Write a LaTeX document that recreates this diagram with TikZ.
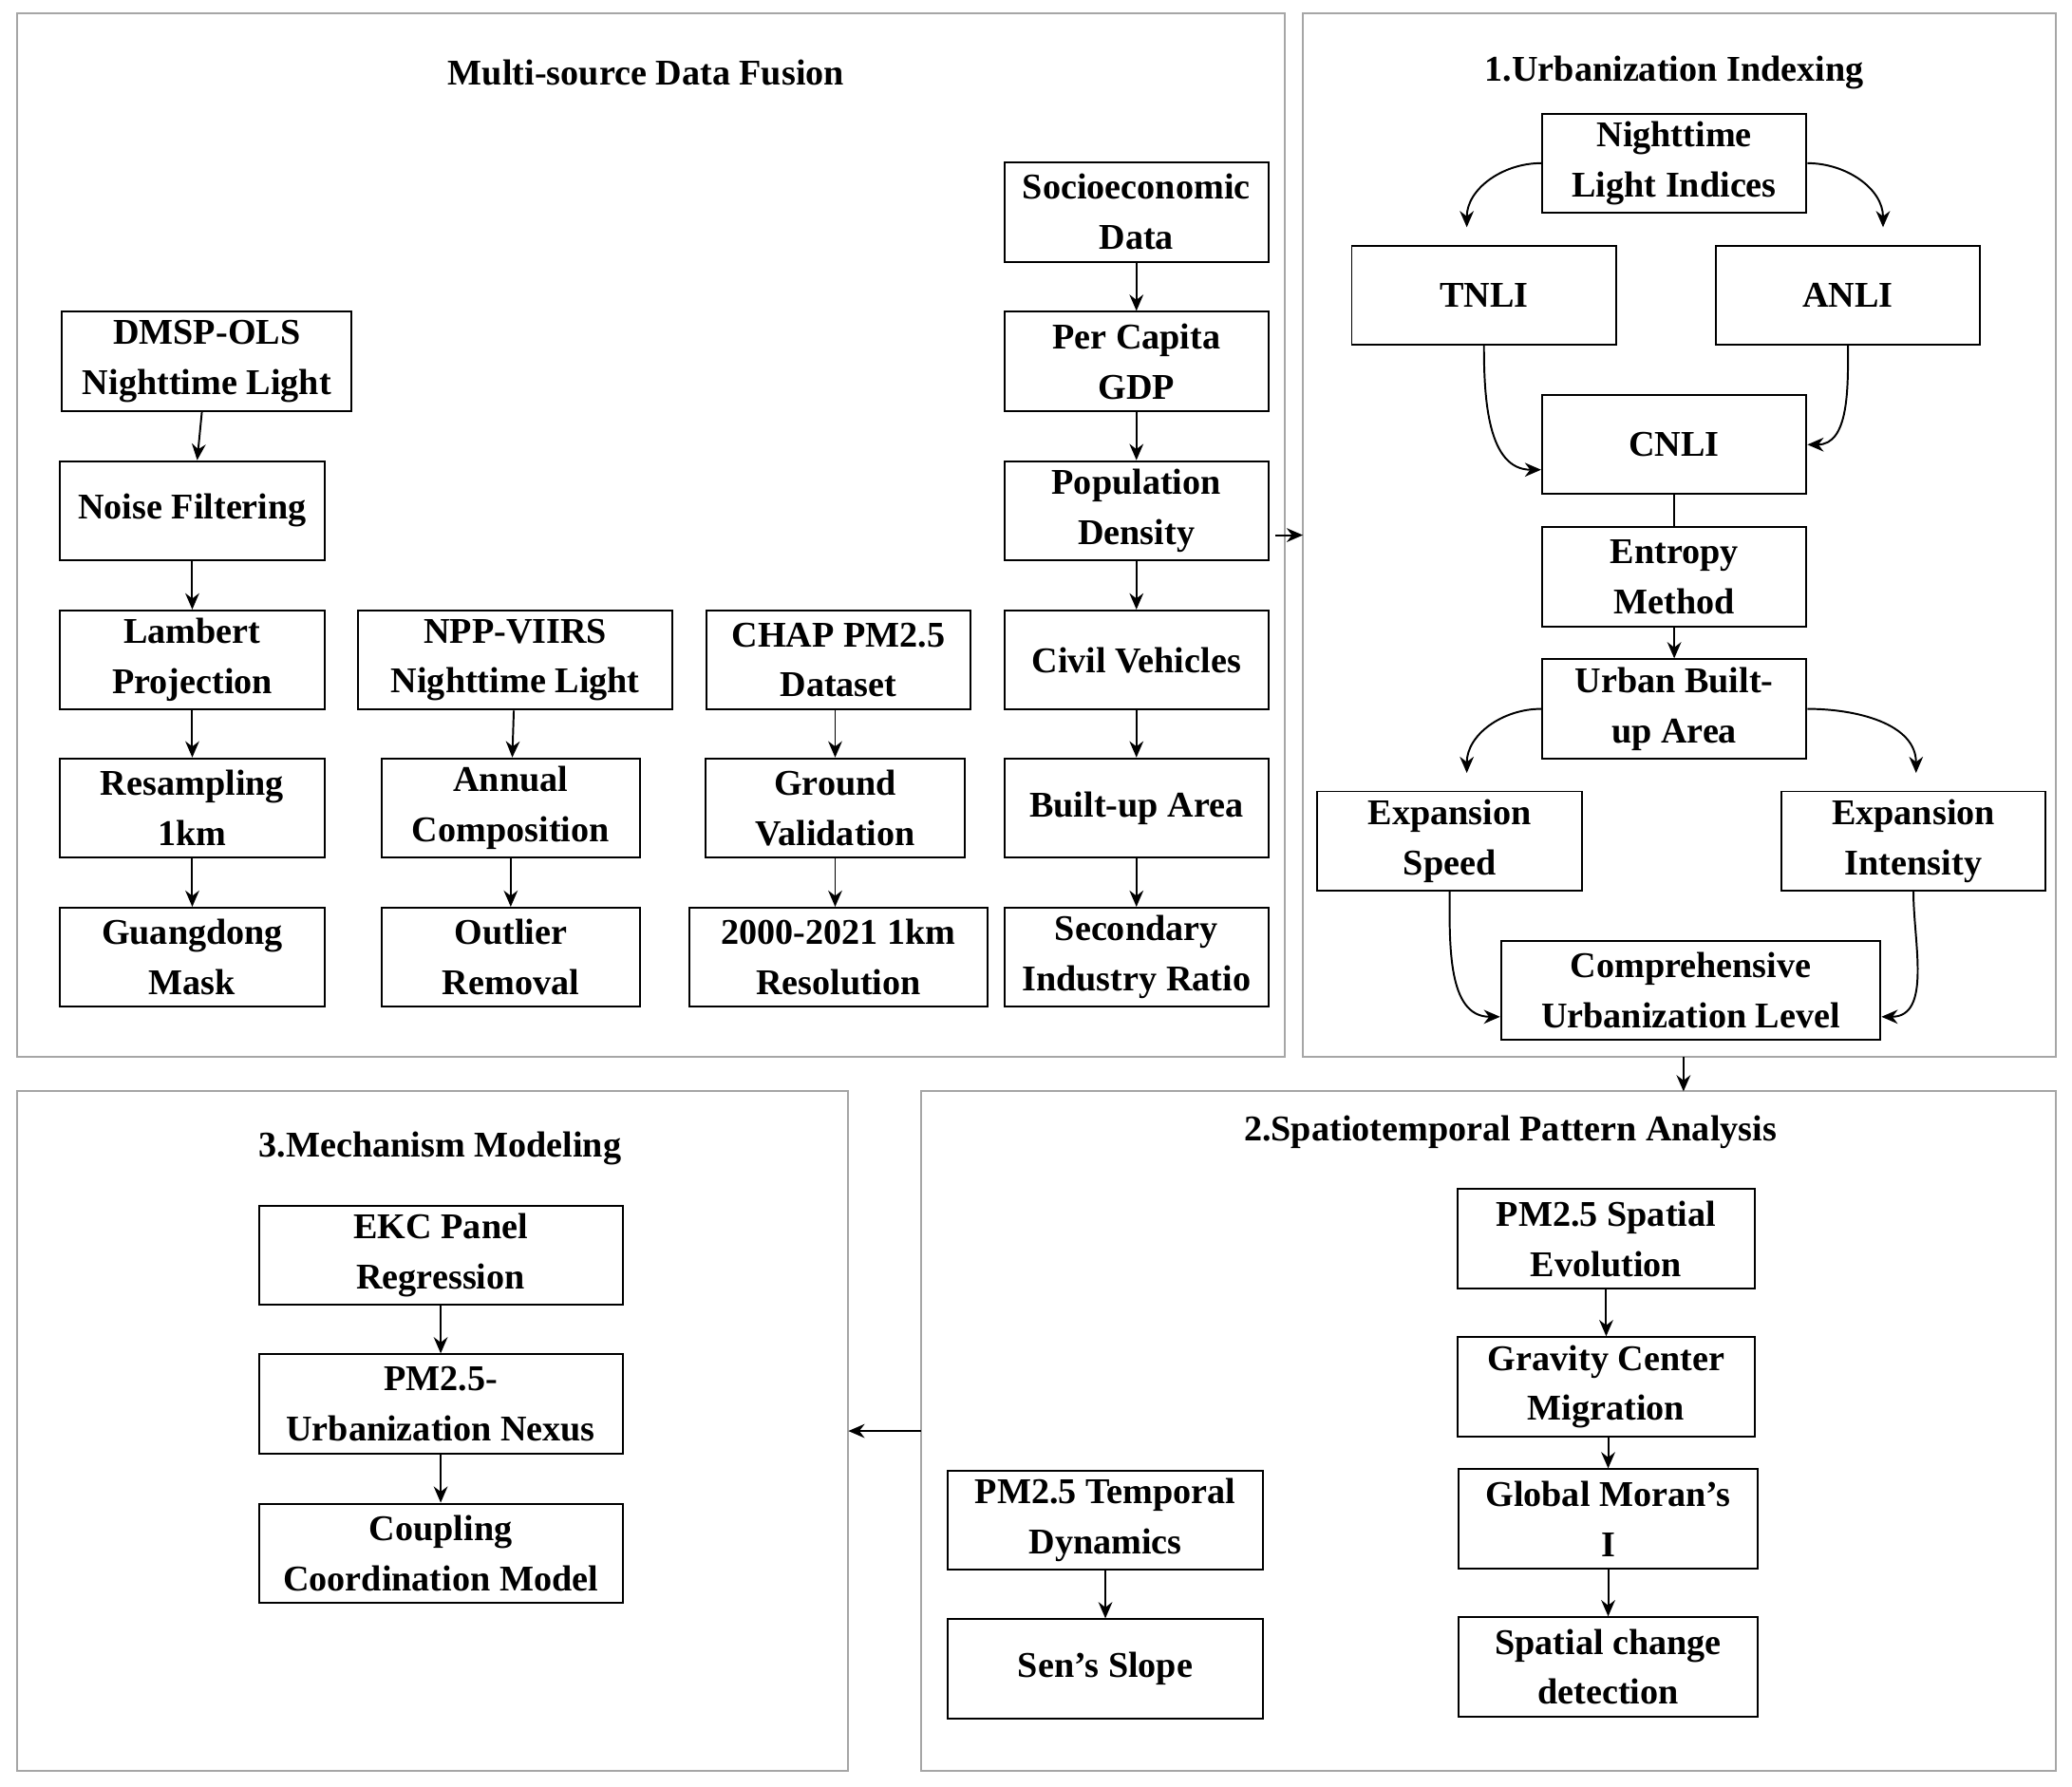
\documentclass[tikz,border=0pt]{standalone}
\usepackage{fontspec}
\setmainfont{Liberation Serif}
\usetikzlibrary{arrows.meta}
\begin{document}
\begin{tikzpicture}[x=0.01cm,y=-0.01cm,font=\bfseries\fontsize{7.8}{10.8}\selectfont,
  box/.style={draw,align=center,minimum width=2cm,minimum height=0.75cm,inner sep=1pt},
  panel/.style={draw,gray!70},
  arr/.style={-{Stealth[length=3.5pt,width=3pt]},line width=0.4pt}]
  \useasboundingbox (0,0) rectangle (1568,1352);
  % panels
  \draw[panel] (13,10) rectangle (972,800);
  \draw[panel] (986,10) rectangle (1556,800);
  \draw[panel] (13,826) rectangle (642,1340);
  \draw[panel] (697,826) rectangle (1556,1340);
  \node (t0) at (489,55) {Multi-source Data Fusion};
  \node (t1) at (1267,55) {1.Urbanization Indexing};
  \node (t3) at (333,869) {3.Mechanism Modeling};
  \node (t2) at (1143,857) {2.Spatiotemporal Pattern Analysis};
  % data fusion
  \node[box,minimum width=2.19cm] (dmsp) at (156.5,273.5) {DMSP-OLS\\Nighttime Light};
  \node[box] (noise) at (145.5,386.5) {Noise Filtering};
  \node[box] (lambert) at (145.5,499.5) {Lambert\\Projection};
  \node[box] (resamp) at (145.5,611.5) {Resampling\\1km};
  \node[box] (gdmask) at (145.5,724.5) {Guangdong\\Mask};
  \node[box,minimum width=2.38cm] (npp) at (390,499.5) {NPP-VIIRS\\Nighttime Light};
  \node[box,minimum width=1.95cm] (annual) at (386.5,611.5) {Annual\\Composition};
  \node[box,minimum width=1.95cm] (outlier) at (386.5,724.5) {Outlier\\Removal};
  \node[box] (chap) at (634.5,499.5) {CHAP PM2.5\\Dataset};
  \node[box,minimum width=1.96cm] (ground) at (632,611.5) {Ground\\Validation};
  \node[box,minimum width=2.25cm] (reso) at (634.5,724.5) {2000-2021 1km\\Resolution};
  \node[box] (socio) at (860,160.5) {Socioeconomic\\Data};
  \node[box] (gdp) at (860,273.5) {Per Capita\\GDP};
  \node[box] (pop) at (860,386.5) {Population\\Density};
  \node[box] (civil) at (860,499.5) {Civil Vehicles};
  \node[box] (built) at (860,611.5) {Built-up Area};
  \node[box] (second) at (860,724.5) {Secondary\\Industry Ratio};
  \foreach \a/\b in {dmsp/noise,noise/lambert,lambert/resamp,resamp/gdmask,
    npp/annual,annual/outlier,socio/gdp,gdp/pop,pop/civil,civil/built,built/second}
    \draw[arr] (\a) -- (\b);
  \draw[arr] (chap.south -| ground) -- (ground);
  \draw[arr] (ground.south) -- (ground.south |- reso.north);
  % urbanization indexing
  \node[box] (ntl) at (1267,123.5) {Nighttime\\Light Indices};
  \node[box] (tnli) at (1123,223.5) {TNLI};
  \node[box] (anli) at (1398.5,223.5) {ANLI};
  \node[box] (cnli) at (1267,336.5) {CNLI};
  \node[box] (entropy) at (1267,436.5) {Entropy\\Method};
  \node[box] (urban) at (1267,536.5) {Urban Built-\\up Area};
  \node[box] (espeed) at (1097,636.5) {Expansion\\Speed};
  \node[box] (eint) at (1448,636.5) {Expansion\\Intensity};
  \node[box,minimum width=2.87cm] (comp) at (1279.5,749.5) {Comprehensive\\Urbanization Level};
  \coordinate (tnliin) at (1110,172);
  \coordinate (anliin) at (1425,172);
  \coordinate (spdin) at (1110,585);
  \coordinate (intin) at (1450,585);
  \draw[arr] (ntl.west) to[out=180,in=90] (tnliin);
  \draw[arr] (ntl.east) to[out=0,in=90] (anliin);
  \draw[arr] (tnli.south) to[out=-90,in=180] ([yshift=-0.19cm]cnli.west);
  \draw[arr] (anli.south) to[out=-90,in=0] (cnli.east);
  \draw (cnli) -- (entropy);
  \draw[arr] (entropy) -- (urban);
  \draw[arr] (urban.west) to[out=180,in=90] (spdin);
  \draw[arr] (urban.east) to[out=0,in=90] (intin);
  \draw[arr] (espeed.south) to[out=-90,in=180] ([yshift=-0.2cm]comp.west);
  \draw[arr] (eint.south) to[out=-90,in=0] ([yshift=-0.2cm]comp.east);
  % mechanism modeling
  \node[box,minimum width=2.75cm] (ekc) at (333.5,950) {EKC Panel\\Regression};
  \node[box,minimum width=2.75cm] (nexus) at (333.5,1062.5) {PM2.5-\\Urbanization Nexus};
  \node[box,minimum width=2.75cm] (coupling) at (333.5,1175.5) {Coupling\\Coordination Model};
  \draw[arr] (ekc) -- (nexus);
  \draw[arr] (nexus) -- (coupling);
  % spatiotemporal
  \node[box,minimum width=2.25cm] (pmsp) at (1215.5,937.5) {PM2.5 Spatial\\Evolution};
  \node[box,minimum width=2.25cm] (grav) at (1215.5,1049.5) {Gravity Center\\Migration};
  \node[box,minimum width=2.26cm] (moran) at (1217,1149.5) {Global Moran's\\I};
  \node[box,minimum width=2.26cm] (scd) at (1217,1261.5) {Spatial change\\detection};
  \node[box,minimum width=2.39cm] (pmtemp) at (836.5,1150.5) {PM2.5 Temporal\\Dynamics};
  \node[box,minimum width=2.39cm] (sen) at (836.5,1263) {Sen's Slope};
  \draw[arr] (pmsp) -- (grav);
  \draw[arr] (grav.south -| moran) -- (moran);
  \draw[arr] (moran) -- (scd);
  \draw[arr] (pmtemp) -- (sen);
  % between panels
  \coordinate (p0) at (965,405);
  \coordinate (p1) at (986,405);
  \coordinate (p2) at (1274,800);
  \coordinate (p3) at (1274,826);
  \coordinate (p4) at (697,1083);
  \coordinate (p5) at (642,1083);
  \draw[arr] (p0) -- (p1);
  \draw[arr] (p2) -- (p3);
  \draw[arr] (p4) -- (p5);
\end{tikzpicture}
\end{document}
